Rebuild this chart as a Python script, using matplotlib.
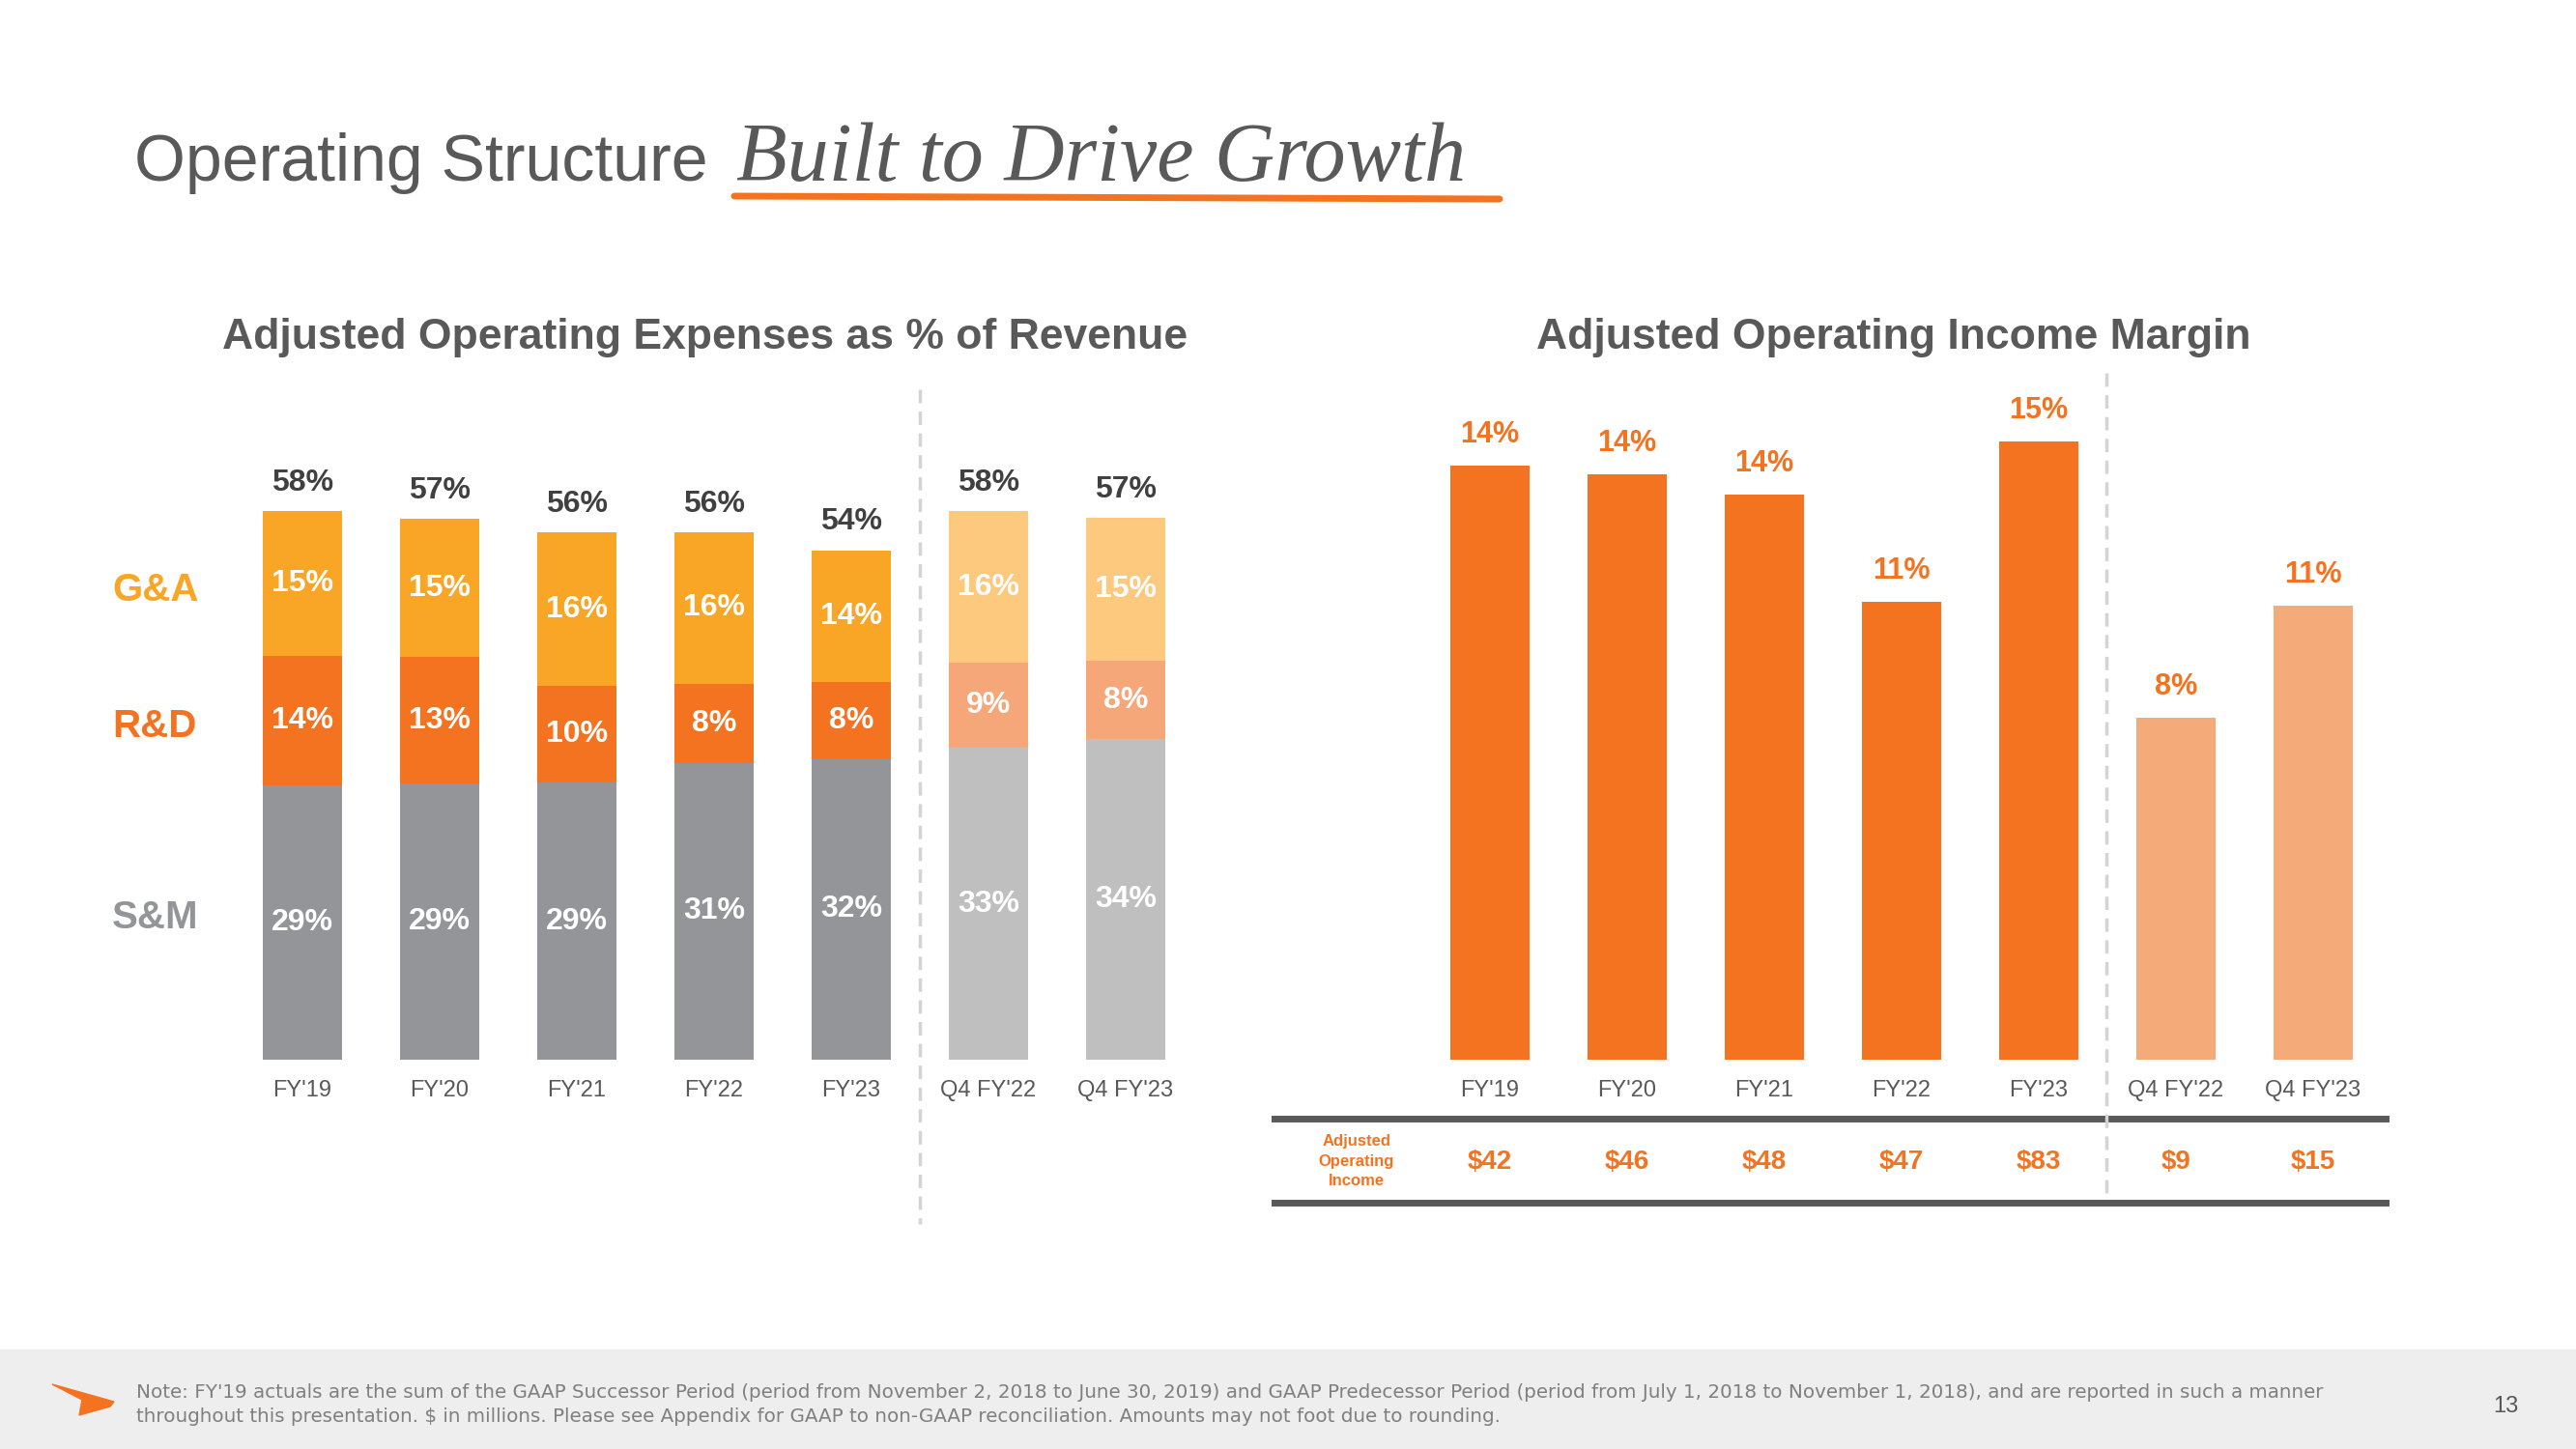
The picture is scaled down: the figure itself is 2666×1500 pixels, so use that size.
import matplotlib
matplotlib.use("Agg")
import matplotlib.pyplot as plt
from matplotlib.lines import Line2D
from matplotlib.patches import Rectangle, Polygon
import matplotlib.transforms as mtransforms

plt.rcParams["font.family"] = ["Liberation Sans", "DejaVu Sans"]

# ---- data ----
opex_periods = ["FY'19", "FY'20", "FY'21", "FY'22", "FY'23", "Q4 FY'22", "Q4 FY'23"]
sm_pct = [29.0, 29.2, 29.3, 31.4, 31.8, 33.0, 33.9]
rd_pct = [13.7, 13.4, 10.2, 8.4, 8.2, 9.0, 8.3]
ga_pct = [15.3, 14.6, 16.3, 16.0, 13.9, 16.0, 15.1]

margin_periods = ["FY'19", "FY'20", "FY'21", "FY'22", "FY'23", "Q4 FY'22", "Q4 FY'23"]
margin_pct = [14.4, 14.2, 13.7, 11.1, 15.0, 8.3, 11.0]
op_income = ["$42", "$46", "$48", "$47", "$83", "$9", "$15"]

# colours: full-year vs quarter (lighter)
GA_C = ["#F9A526"] * 5 + ["#FCC97E"] * 2
RD_C = ["#F37321"] * 5 + ["#F5A77A"] * 2
SM_C = ["#939598"] * 5 + ["#BFBFBF"] * 2
MARGIN_C = ["#F37321"] * 5 + ["#F5AB79"] * 2
GREY = "#595959"
ORANGE = "#F37321"

W, H = 2666, 1500
fig = plt.figure(figsize=(W / 100, H / 100), dpi=100)


def fx(x):
    return x / W


def fy(y):
    return 1 - y / H


def box(l, t, r, b):
    return [fx(l), fy(b), (r - l) / W, (b - t) / H]


# ---- title ----
fig.text(fx(139), fy(187), "Operating Structure", fontsize=49, color=GREY,
         va="baseline", ha="left")
fig.text(fx(762), fy(187), "Built to Drive Growth", fontsize=62, color=GREY,
         va="baseline", ha="left", family=["Liberation Serif"], style="italic")
fig.add_artist(Line2D([fx(760), fx(1552)], [fy(203), fy(206)], color=ORANGE,
                      lw=5, solid_capstyle="round"))

# ---- section titles ----
fig.text(fx(730), fy(349), "Adjusted Operating Expenses as % of Revenue",
         fontsize=32, fontweight="bold", color=GREY, ha="center", va="center")
fig.text(fx(1960), fy(349), "Adjusted Operating Income Margin",
         fontsize=32, fontweight="bold", color=GREY, ha="center", va="center")

# ---- left chart: stacked opex ----
ax1 = fig.add_axes(box(242, 412, 1236, 1097))
x = range(len(opex_periods))
bw = 0.575
ax1.bar(x, sm_pct, bw, color=SM_C)
ax1.bar(x, rd_pct, bw, bottom=sm_pct, color=RD_C)
base_ga = [a + b for a, b in zip(sm_pct, rd_pct)]
ax1.bar(x, ga_pct, bw, bottom=base_ga, color=GA_C)
for i in x:
    ax1.text(i, sm_pct[i] / 2, f"{sm_pct[i]:.0f}%", ha="center", va="center",
             color="white", fontsize=23, fontweight="bold")
    ax1.text(i, sm_pct[i] + rd_pct[i] / 2, f"{rd_pct[i]:.0f}%", ha="center",
             va="center", color="white", fontsize=23, fontweight="bold")
    ax1.text(i, base_ga[i] + ga_pct[i] / 2, f"{ga_pct[i]:.0f}%", ha="center",
             va="center", color="white", fontsize=23, fontweight="bold")
    total = base_ga[i] + ga_pct[i]
    ax1.annotate(f"{total:.0f}%", (i, total), xytext=(0, 21),
                 textcoords="offset points", ha="center", va="center",
                 color="#404040", fontsize=23, fontweight="bold")
ax1.set_xlim(-0.5, 6.5)
ax1.set_ylim(0, 70)

# row labels
fig.text(fx(116), fy(611), "G&A", fontsize=29, fontweight="bold", color="#F9A526", va="center")
fig.text(fx(116), fy(752), "R&D", fontsize=29, fontweight="bold", color=ORANGE, va="center")
fig.text(fx(116), fy(950), "S&M", fontsize=29, fontweight="bold", color="#939598", va="center")

# ---- right chart: margin ----
ax2 = fig.add_axes(box(1471, 414, 2465, 1097))
x2 = range(len(margin_periods))
ax2.bar(x2, margin_pct, bw, color=MARGIN_C)
for i in x2:
    ax2.annotate(f"{margin_pct[i]:.0f}%", (i, margin_pct[i]), xytext=(0, 23),
                 textcoords="offset points", ha="center", va="center",
                 color=ORANGE, fontsize=22, fontweight="bold")
ax2.set_xlim(-0.5, 6.5)
ax2.set_ylim(0, 16)

for ax, labels in ((ax1, opex_periods), (ax2, margin_periods)):
    ax.set_xticks(range(len(labels)))
    ax.set_xticklabels(labels, fontsize=17, color=GREY)
    ax.tick_params(axis="x", length=0, pad=15)
    ax.set_yticks([])
    for s in ax.spines.values():
        s.set_visible(False)
    ax.patch.set_alpha(0)

# operating income row
tr = mtransforms.blended_transform_factory(ax2.transData, fig.transFigure)
for i, v in enumerate(op_income):
    ax2.text(i, fy(1203), v, transform=tr, ha="center", va="center",
             color=ORANGE, fontsize=20, fontweight="bold")
fig.text(fx(1404), fy(1202), "Adjusted\nOperating\nIncome", ha="center", va="center",
         color=ORANGE, fontsize=12, fontweight="bold", linespacing=1.45)
for yy in (1158, 1245):
    fig.add_artist(Line2D([fx(1319), fx(2469)], [fy(yy), fy(yy)], color=GREY, lw=5))

# dashed separators
fig.add_artist(Line2D([fx(952), fx(952)], [fy(403), fy(1267)], color="#D4D4D4",
                      lw=2.5, ls=(0, (4, 2.5))))
fig.add_artist(Line2D([fx(2180), fx(2180)], [fy(386), fy(1241)], color="#D4D4D4",
                      lw=2.5, ls=(0, (4, 2.5))))

# ---- footer ----
fig.add_artist(Rectangle((0, 0), 1, fy(1397), transform=fig.transFigure,
                         color="#EEEEEE", zorder=0))
fig.add_artist(Polygon([(fx(54), fy(1433)), (fx(118), fy(1451)), (fx(114), fy(1456)),
                        (fx(82), fy(1465)), (fx(85), fy(1449))],
                       closed=True, transform=fig.transFigure, color=ORANGE))
note = ("Note: FY'19 actuals are the sum of the GAAP Successor Period (period from November 2, 2018 "
        "to June 30, 2019) and GAAP Predecessor Period (period from July 1, 2018 to November 1, 2018), "
        "and are reported in such a manner\nthroughout this presentation. $ in millions. Please see "
        "Appendix for GAAP to non-GAAP reconciliation. Amounts may not foot due to rounding.")
fig.text(fx(141), fy(1454), note, fontsize=14.3, color="#7F7F7F", va="center",
         linespacing=1.45, family=["DejaVu Sans"])
fig.text(fx(2593), fy(1456), "13", fontsize=17, color=GREY, ha="center", va="center")

fig.savefig("out.png", dpi=100)
